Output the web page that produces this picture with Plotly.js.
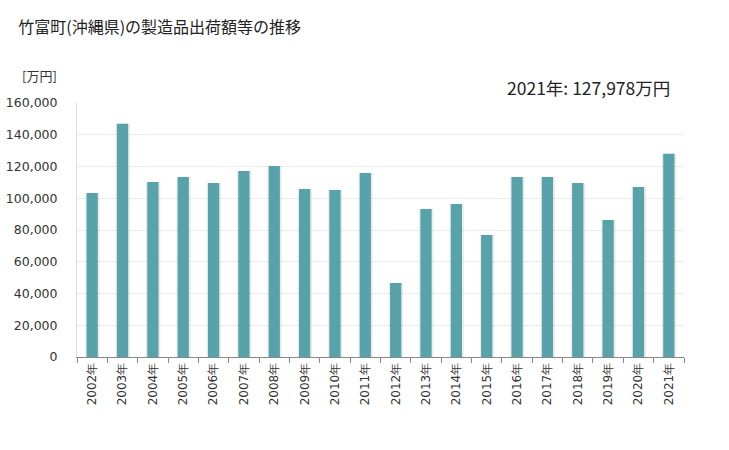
<!DOCTYPE html>
<html>
<head>
<meta charset="utf-8">
<script src="https://cdn.plot.ly/plotly-3.0.1.min.js"></script>
<style>body{margin:0;background:#fff}#chart{width:729px;height:450px}</style>
</head>
<body>
<div id="chart"></div>
<script>
const years = ["2002年","2003年","2004年","2005年","2006年","2007年","2008年","2009年","2010年","2011年","2012年","2013年","2014年","2015年","2016年","2017年","2018年","2019年","2020年","2021年"];
const values = [103300,147000,110200,113400,109600,117200,120300,105800,105200,115900,46600,93200,96400,76900,113400,113400,109600,86300,107100,127978];
const yTicks = [0,20000,40000,60000,80000,100000,120000,140000,160000];
const yTickLabels = ["0","20,000","40,000","60,000","80,000","100,000","120,000","140,000","160,000"];

const font = "DejaVu Sans";
const cjk = "Noto Sans CJK JP";

const shadow = {
  type: "bar", x: years, y: values,
  width: 0.47, offset: -0.225,
  marker: {color: "rgba(0,0,0,0.08)", line: {width: 0}},
  hoverinfo: "skip", showlegend: false
};
const main = {
  type: "bar", x: years, y: values,
  width: 0.37, offset: -0.185,
  marker: {color: "#57a3a9", line: {width: 0}},
  showlegend: false
};

const layout = {
  width: 729, height: 450,
  margin: {l: 77, r: 45, t: 103, b: 93},
  paper_bgcolor: "#fff", plot_bgcolor: "#fff",
  barmode: "overlay",
  title: {text: "竹富町(沖縄県)の製造品出荷額等の推移", x: 0.025, xanchor: "left", y: 0.94, yanchor: "middle",
          font: {family: cjk, size: 16, color: "#222"}},
  xaxis: {
    type: "category", tickangle: -90,
    tickfont: {family: font, size: 12, color: "#333"},
    ticks: "outside", tickson: "boundaries", ticklen: 5, tickcolor: "#888",
    showline: true, linecolor: "#888", linewidth: 1,
    showgrid: false, fixedrange: true
  },
  yaxis: {
    range: [0, 160000], tickvals: yTicks, ticktext: yTickLabels,
    tickfont: {family: font, size: 12.5, color: "#333"},
    showgrid: true, gridcolor: "#ececec", gridwidth: 1,
    showline: true, linecolor: "#ddd", linewidth: 1,
    zeroline: false, ticks: "", ticklabelstandoff: 16, fixedrange: true
  },
  annotations: [
    {text: "[万円]", xref: "paper", yref: "paper", x: -0.03, y: 1.0, yshift: 28, xanchor: "right", yanchor: "middle",
     showarrow: false, font: {family: cjk, size: 13, color: "#333"}},
    {text: "2021年: 127,978万円", xref: "paper", yref: "paper", x: 0.98, y: 1.0, yshift: 16, xanchor: "right", yanchor: "middle",
     showarrow: false, font: {family: cjk, size: 17.5, color: "#222"}}
  ]
};

Plotly.newPlot("chart", [shadow, main], layout, {displayModeBar: false, staticPlot: true});
</script>
</body>
</html>
